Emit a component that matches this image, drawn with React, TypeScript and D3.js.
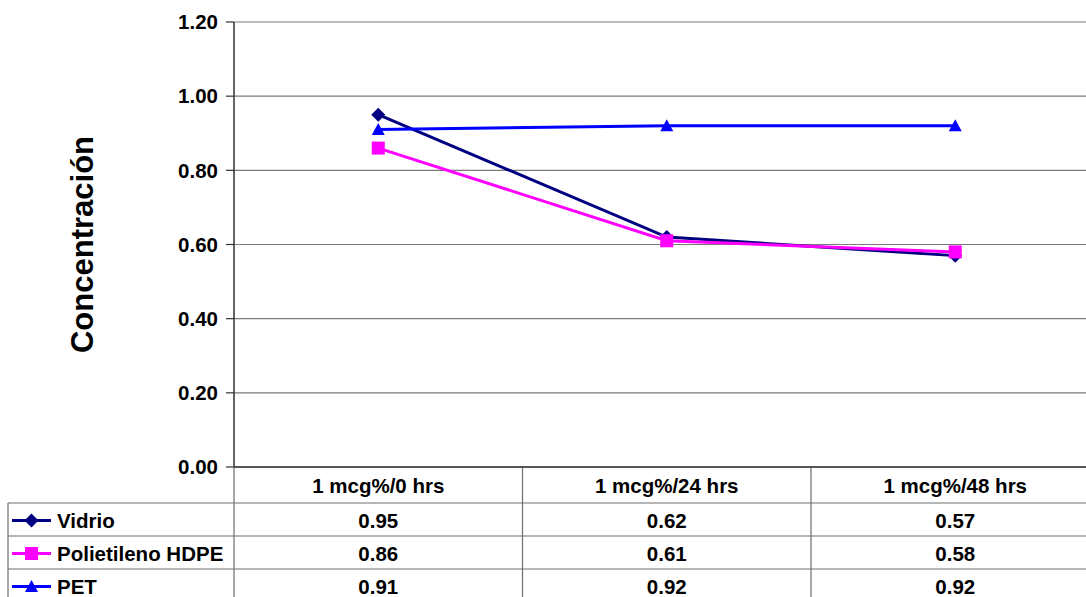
import React from "react";
import * as d3 from "d3";

const categories = ["1 mcg%/0 hrs", "1 mcg%/24 hrs", "1 mcg%/48 hrs"];
const seriesNames = ["Vidrio", "Polietileno HDPE", "PET"];
const vidrio = [0.95, 0.62, 0.57];
const hdpe = [0.86, 0.61, 0.58];
const pet = [0.91, 0.92, 0.92];
const yTicks = [0, 0.2, 0.4, 0.6, 0.8, 1.0, 1.2];

const W = 1086;
const H = 597;
const plotLeft = 234;
const plotTop = 22;
const plotBottom = 467;
const bandW = 288.5;
const rowH = 33;
const tableLeft = 8;
const font = "'Liberation Sans', Arial, sans-serif";
const fs = 20.5;

const series = [
  { name: seriesNames[0], values: vidrio, color: "#000080", marker: "diamond" },
  { name: seriesNames[1], values: hdpe, color: "#FF00FF", marker: "square" },
  { name: seriesNames[2], values: pet, color: "#0000FF", marker: "triangle" },
];

function Marker({ type, x, y, color }: { type: string; x: number; y: number; color: string }) {
  if (type === "diamond") {
    const s = 7;
    return <path d={`M${x},${y - s}L${x + s},${y}L${x},${y + s}L${x - s},${y}Z`} fill={color} />;
  }
  if (type === "square") {
    const s = 6.5;
    return <rect x={x - s} y={y - s} width={2 * s} height={2 * s} fill={color} />;
  }
  const s = 6.5;
  return <path d={`M${x},${y - s}L${x + s},${y + s - 1}L${x - s},${y + s - 1}Z`} fill={color} />;
}

export default function App() {
  const x = d3
    .scaleBand<string>()
    .domain(categories)
    .range([plotLeft, plotLeft + bandW * categories.length]);
  const y = d3.scaleLinear().domain([0, 1.2]).range([plotBottom, plotTop]);
  const cx = (c: string) => (x(c) as number) + x.bandwidth() / 2;
  const line = d3
    .line<number>()
    .x((_, i) => cx(categories[i]))
    .y((v) => y(v));

  const headerTop = plotBottom;
  const tableTop = headerTop + 36;
  const colEdges = categories.map((c) => x(c) as number).concat([plotLeft + bandW * categories.length]);

  return (
    <svg
      width={W}
      height={H}
      style={{ position: "absolute", left: 0, top: 0, background: "#fff" }}
      fontFamily={font}
      fontWeight="bold"
    >
      <rect width={W} height={H} fill="#fff" />
      {/* gridlines */}
      {yTicks.map((t) => (
        <line key={"g" + t} x1={plotLeft} x2={W} y1={y(t)} y2={y(t)} stroke="#7a7a7a" strokeWidth={1.2} />
      ))}
      {/* tick marks and labels */}
      {yTicks.map((t) => (
        <g key={"t" + t}>
          <line x1={plotLeft - 8} x2={plotLeft} y1={y(t)} y2={y(t)} stroke="#333" strokeWidth={1.2} />
          <text x={plotLeft - 16} y={y(t)} dy="0.35em" textAnchor="end" fontSize={fs} fill="#000">
            {t.toFixed(2)}
          </text>
        </g>
      ))}
      {/* y axis title */}
      <text
        transform={`translate(93,${(plotTop + plotBottom) / 2}) rotate(-90)`}
        textAnchor="middle"
        fontSize={31}
        fill="#000"
      >
        Concentración
      </text>

      {/* data table */}
      <g stroke="#6e6e6e" strokeWidth={1.2}>
        {colEdges.map((e, i) => (
          <line key={"c" + i} x1={e} x2={e} y1={headerTop} y2={H} />
        ))}
        <line x1={tableLeft} x2={tableLeft} y1={tableTop} y2={H} />
        {[0, 1, 2].map((r) => (
          <line key={"r" + r} x1={tableLeft} x2={W} y1={tableTop + r * rowH} y2={tableTop + r * rowH} />
        ))}
      </g>
      <line x1={plotLeft} x2={plotLeft} y1={plotTop} y2={plotBottom} stroke="#333" strokeWidth={1.5} />
      <line x1={plotLeft} x2={W} y1={plotBottom} y2={plotBottom} stroke="#333" strokeWidth={1.5} />
      {categories.map((c) => (
        <text key={c} x={cx(c)} y={headerTop + 19} dy="0.35em" textAnchor="middle" fontSize={fs} fill="#000">
          {c}
        </text>
      ))}
      {series.map((s, r) => {
        const rowMid = tableTop + r * rowH + rowH / 2 + 1;
        return (
          <g key={s.name}>
            <line x1={12} x2={51} y1={rowMid} y2={rowMid} stroke={s.color} strokeWidth={3} />
            <Marker type={s.marker} x={31.5} y={rowMid} color={s.color} />
            <text x={57} y={rowMid} dy="0.35em" fontSize={fs} fill="#000">
              {s.name}
            </text>
            {s.values.map((v, i) => (
              <text key={i} x={cx(categories[i])} y={rowMid} dy="0.35em" textAnchor="middle" fontSize={fs} fill="#000">
                {v.toFixed(2)}
              </text>
            ))}
          </g>
        );
      })}

      {/* series lines */}
      {series.map((s) => (
        <g key={"l" + s.name}>
          <path d={line(s.values) || ""} fill="none" stroke={s.color} strokeWidth={3} />
          {s.values.map((v, i) => (
            <Marker key={i} type={s.marker} x={cx(categories[i])} y={y(v)} color={s.color} />
          ))}
        </g>
      ))}
    </svg>
  );
}
